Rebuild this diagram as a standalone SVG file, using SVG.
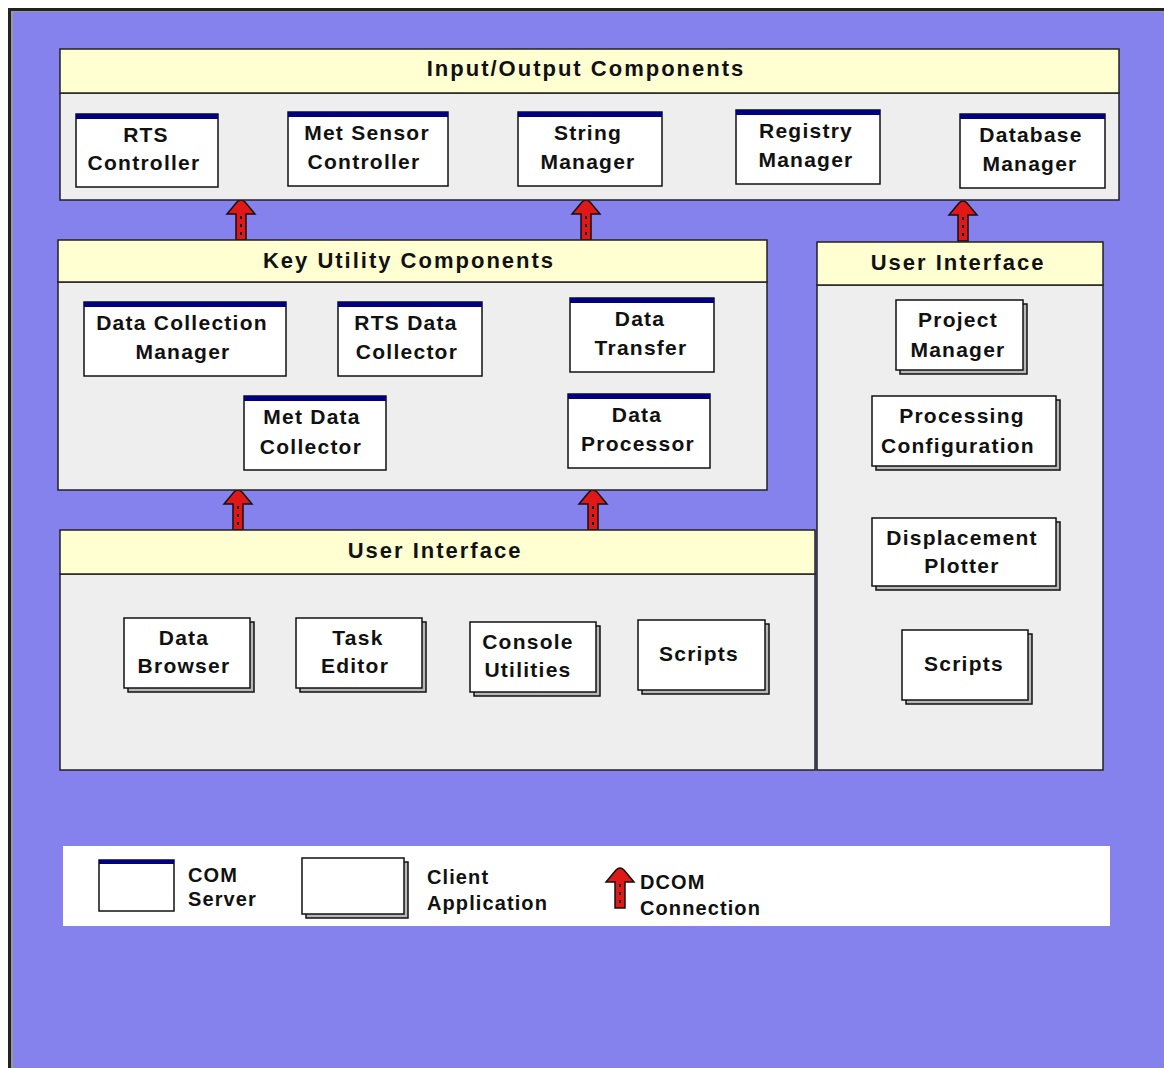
<svg xmlns="http://www.w3.org/2000/svg" width="1164" height="1068" viewBox="0 0 1164 1068">
<style>
.hdr{fill:#FFFFD2;stroke:#222;stroke-width:1.5}
.body{fill:#EEEEEE;stroke:#222;stroke-width:1.5}
.srv{fill:#fff;stroke:#111;stroke-width:1.5}
.bar{fill:#000080}
.sh{fill:#B8B8B8;stroke:#111;stroke-width:1.5}
.t{font-family:"Liberation Sans",Arial,sans-serif;font-weight:bold;font-size:21px;fill:#111;text-anchor:middle;letter-spacing:1.25px}
.h{font-family:"Liberation Sans",Arial,sans-serif;font-weight:bold;font-size:22px;fill:#111;text-anchor:middle;letter-spacing:2px}
.tl{font-family:"Liberation Sans",Arial,sans-serif;font-weight:bold;font-size:20px;fill:#111;letter-spacing:1.1px}
</style>
<defs>
<g id="arrow">
<path d="M0,0 Q2,0 4,2 L14,14 L5,14 L5,40 L-5,40 L-5,14 L-14,14 L-4,2 Q-2,0 0,0 Z" fill="#E01818" stroke="#111" stroke-width="1.5"/>
<line x1="0" y1="16" x2="0" y2="39" stroke="#111" stroke-width="2" stroke-dasharray="3 5"/>
</g>
</defs>
<rect x="0" y="0" width="1164" height="1068" fill="#fff"/>
<rect x="8" y="8" width="1160" height="1064" fill="#222"/>
<rect x="11" y="11" width="1160" height="1064" fill="#999"/>
<rect x="13" y="12" width="1160" height="1064" fill="#8582EE"/>

<g id="connectors">
<use href="#arrow" x="241" y="200"/>
<use href="#arrow" x="586" y="200"/>
<use href="#arrow" x="963" y="201"/>
<use href="#arrow" x="238" y="490"/>
<use href="#arrow" x="593" y="490"/>
</g>

<g id="io">
<rect class="body" x="60" y="93" width="1059" height="107"/>
<rect class="hdr" x="60" y="49" width="1059" height="44"/>
<text class="h" x="586" y="76">Input/Output Components</text>
</g>
<g id="rts-controller"><rect class="srv" x="76" y="114" width="142" height="73"/><rect class="bar" x="76" y="114" width="142" height="5"/><text class="t" x="146" y="142">RTS</text><text class="t" x="144" y="170">Controller</text></g>
<g id="met-sensor-controller"><rect class="srv" x="288" y="112" width="160" height="74"/><rect class="bar" x="288" y="112" width="160" height="5"/><text class="t" x="367" y="140">Met Sensor</text><text class="t" x="364" y="169">Controller</text></g>
<g id="string-manager"><rect class="srv" x="518" y="112" width="144" height="74"/><rect class="bar" x="518" y="112" width="144" height="5"/><text class="t" x="588" y="140">String</text><text class="t" x="588" y="169">Manager</text></g>
<g id="registry-manager"><rect class="srv" x="736" y="110" width="144" height="74"/><rect class="bar" x="736" y="110" width="144" height="5"/><text class="t" x="806" y="138">Registry</text><text class="t" x="806" y="167">Manager</text></g>
<g id="database-manager"><rect class="srv" x="960" y="114" width="145" height="74"/><rect class="bar" x="960" y="114" width="145" height="5"/><text class="t" x="1031" y="142">Database</text><text class="t" x="1030" y="171">Manager</text></g>

<g id="key-utility">
<rect class="body" x="58" y="282" width="709" height="208"/>
<rect class="hdr" x="58" y="240" width="709" height="42"/>
<text class="h" x="409" y="268">Key Utility Components</text>
</g>
<g id="data-collection-manager"><rect class="srv" x="84" y="302" width="202" height="74"/><rect class="bar" x="84" y="302" width="202" height="5"/><text class="t" x="182" y="330">Data Collection</text><text class="t" x="183" y="359">Manager</text></g>
<g id="rts-data-collector"><rect class="srv" x="338" y="302" width="144" height="74"/><rect class="bar" x="338" y="302" width="144" height="5"/><text class="t" x="406" y="330">RTS Data</text><text class="t" x="407" y="359">Collector</text></g>
<g id="data-transfer"><rect class="srv" x="570" y="298" width="144" height="74"/><rect class="bar" x="570" y="298" width="144" height="5"/><text class="t" x="640" y="326">Data</text><text class="t" x="641" y="355">Transfer</text></g>
<g id="met-data-collector"><rect class="srv" x="244" y="396" width="142" height="74"/><rect class="bar" x="244" y="396" width="142" height="5"/><text class="t" x="312" y="424">Met Data</text><text class="t" x="311" y="454">Collector</text></g>
<g id="data-processor"><rect class="srv" x="568" y="394" width="142" height="74"/><rect class="bar" x="568" y="394" width="142" height="5"/><text class="t" x="637" y="422">Data</text><text class="t" x="638" y="451">Processor</text></g>

<g id="ui-right">
<rect class="body" x="817" y="285" width="286" height="485"/>
<rect class="hdr" x="817" y="242" width="286" height="43"/>
<text class="h" x="958" y="270">User Interface</text>
</g>
<g id="project-manager"><rect class="sh" x="900" y="304" width="127" height="70"/><rect class="srv" x="896" y="300" width="127" height="70"/><text class="t" x="958" y="327">Project</text><text class="t" x="958" y="357">Manager</text></g>
<g id="processing-configuration"><rect class="sh" x="876" y="400" width="184" height="70"/><rect class="srv" x="872" y="396" width="184" height="70"/><text class="t" x="962" y="423">Processing</text><text class="t" x="958" y="453">Configuration</text></g>
<g id="displacement-plotter"><rect class="sh" x="876" y="522" width="184" height="68"/><rect class="srv" x="872" y="518" width="184" height="68"/><text class="t" x="962" y="545">Displacement</text><text class="t" x="962" y="573">Plotter</text></g>
<g id="scripts-right"><rect class="sh" x="906" y="634" width="126" height="70"/><rect class="srv" x="902" y="630" width="126" height="70"/><text class="t" x="964" y="671">Scripts</text></g>

<g id="ui-bottom">
<rect class="body" x="60" y="574" width="755" height="196"/>
<rect class="hdr" x="60" y="530" width="755" height="44"/>
<text class="h" x="435" y="558">User Interface</text>
</g>
<g id="data-browser"><rect class="sh" x="128" y="622" width="126" height="70"/><rect class="srv" x="124" y="618" width="126" height="70"/><text class="t" x="184" y="645">Data</text><text class="t" x="184" y="673">Browser</text></g>
<g id="task-editor"><rect class="sh" x="300" y="622" width="126" height="70"/><rect class="srv" x="296" y="618" width="126" height="70"/><text class="t" x="358" y="645">Task</text><text class="t" x="355" y="673">Editor</text></g>
<g id="console-utilities"><rect class="sh" x="474" y="626" width="126" height="70"/><rect class="srv" x="470" y="622" width="126" height="70"/><text class="t" x="528" y="649">Console</text><text class="t" x="528" y="677">Utilities</text></g>
<g id="scripts-bottom"><rect class="sh" x="642" y="624" width="127" height="70"/><rect class="srv" x="638" y="620" width="127" height="70"/><text class="t" x="699" y="661">Scripts</text></g>

<g id="legend">
<rect x="63" y="846" width="1047" height="80" fill="#fff"/>
<rect class="srv" x="99" y="860" width="75" height="51"/><rect class="bar" x="99" y="860" width="75" height="4"/>
<text class="tl" x="188" y="882">COM</text><text class="tl" x="188" y="906">Server</text>
<rect class="sh" x="306" y="862" width="102" height="56"/><rect class="srv" x="302" y="858" width="102" height="56"/>
<text class="tl" x="427" y="884">Client</text><text class="tl" x="427" y="910">Application</text>
<use href="#arrow" x="620" y="868"/>
<text class="tl" x="640" y="889">DCOM</text><text class="tl" x="640" y="915">Connection</text>
</g>
</svg>
